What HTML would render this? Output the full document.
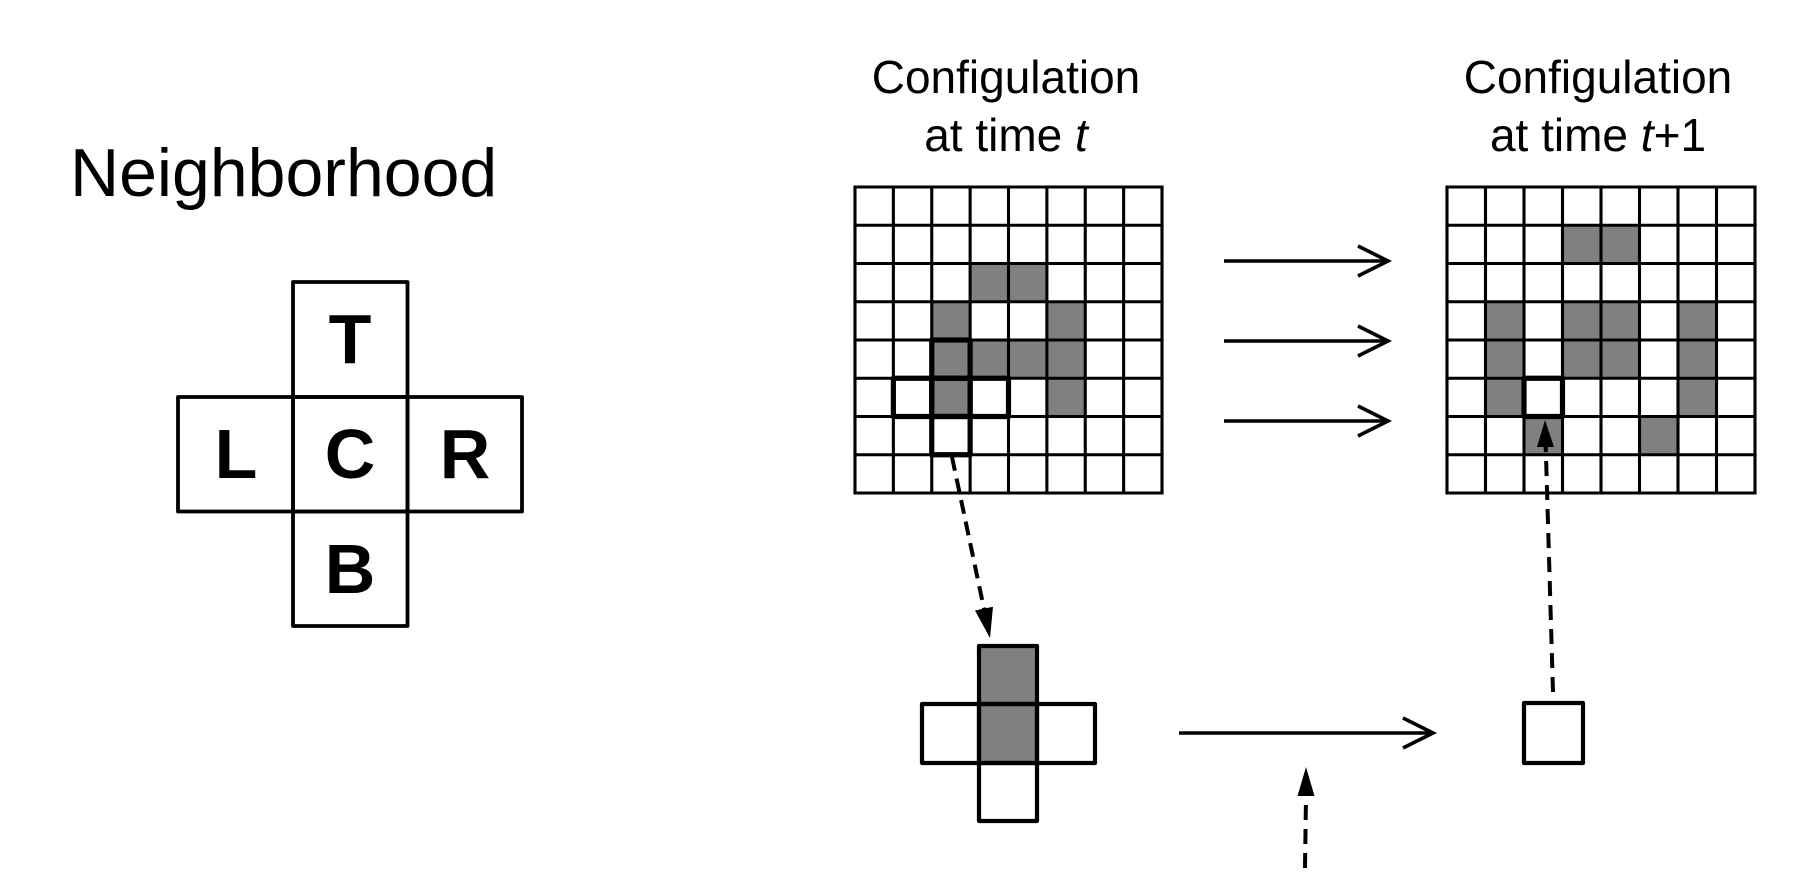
<!DOCTYPE html>
<html>
<head>
<meta charset="utf-8">
<style>
  html,body{margin:0;padding:0;background:#fff;}
  svg{display:block;}
  text{font-family:"Liberation Sans", Arial, sans-serif;fill:#000;}
</style>
</head>
<body>
<svg width="1795" height="889" viewBox="0 0 1795 889" xmlns="http://www.w3.org/2000/svg">
  <rect x="0" y="0" width="1795" height="889" fill="#fff"/>

  <!-- Neighborhood title -->
  <text x="70" y="196" font-size="68">Neighborhood</text>

  <!-- Neighborhood cross -->
  <g fill="none" stroke="#000" stroke-width="3.8" stroke-linejoin="round">
    <rect x="293" y="282" width="114.5" height="115"/>
    <rect x="178" y="397" width="115" height="114.5"/>
    <rect x="293" y="397" width="114.5" height="114.5"/>
    <rect x="407.5" y="397" width="114.5" height="114.5"/>
    <rect x="293" y="511.5" width="114.5" height="114.5"/>
  </g>
  <g font-weight="bold" font-size="70" text-anchor="middle">
    <text x="350" y="363">T</text>
    <text x="236" y="478">L</text>
    <text x="350" y="478">C</text>
    <text x="465" y="478">R</text>
    <text x="350" y="593">B</text>
  </g>

  <!-- Titles -->
  <g font-size="46" text-anchor="middle">
    <text x="1006" y="93">Configulation</text>
    <text x="1006" y="151">at time <tspan font-style="italic">t</tspan></text>
    <text x="1598" y="93">Configulation</text>
    <text x="1598" y="151">at time <tspan font-style="italic">t</tspan>+1</text>
  </g>

  <!-- Grid 1 grey cells -->
  <g fill="#808080">
    <rect x="970.125" y="263.5" width="38.375" height="38.25"/>
    <rect x="1008.5" y="263.5" width="38.375" height="38.25"/>
    <rect x="931.75" y="301.75" width="38.375" height="38.25"/>
    <rect x="1046.875" y="301.75" width="38.375" height="38.25"/>
    <rect x="931.75" y="340" width="38.375" height="38.25"/>
    <rect x="970.125" y="340" width="38.375" height="38.25"/>
    <rect x="1008.5" y="340" width="38.375" height="38.25"/>
    <rect x="1046.875" y="340" width="38.375" height="38.25"/>
    <rect x="931.75" y="378.25" width="38.375" height="38.25"/>
    <rect x="1046.875" y="378.25" width="38.375" height="38.25"/>
  </g>
  <g stroke="#000" stroke-width="3.1" fill="none" stroke-linecap="square">
    <path d="M855,187V493 M893.375,187V493 M931.75,187V493 M970.125,187V493 M1008.5,187V493 M1046.875,187V493 M1085.25,187V493 M1123.625,187V493 M1162,187V493"/>
    <path d="M855,187H1162 M855,225.25H1162 M855,263.5H1162 M855,301.75H1162 M855,340H1162 M855,378.25H1162 M855,416.5H1162 M855,454.75H1162 M855,493H1162"/>
  </g>
  <g stroke="#000" stroke-width="5.2" fill="none" stroke-linejoin="round">
    <rect x="931.75" y="340" width="38.375" height="38.25"/>
    <rect x="893.375" y="378.25" width="38.375" height="38.25"/>
    <rect x="931.75" y="378.25" width="38.375" height="38.25"/>
    <rect x="970.125" y="378.25" width="38.375" height="38.25"/>
    <rect x="931.75" y="416.5" width="38.375" height="38.25"/>
  </g>

  <!-- Grid 2 grey cells -->
  <g fill="#808080">
    <rect x="1562.5" y="225.25" width="38.5" height="38.25"/>
    <rect x="1601" y="225.25" width="38.5" height="38.25"/>
    <rect x="1485.5" y="301.75" width="38.5" height="38.25"/>
    <rect x="1562.5" y="301.75" width="38.5" height="38.25"/>
    <rect x="1601" y="301.75" width="38.5" height="38.25"/>
    <rect x="1678" y="301.75" width="38.5" height="38.25"/>
    <rect x="1485.5" y="340" width="38.5" height="38.25"/>
    <rect x="1562.5" y="340" width="38.5" height="38.25"/>
    <rect x="1601" y="340" width="38.5" height="38.25"/>
    <rect x="1678" y="340" width="38.5" height="38.25"/>
    <rect x="1485.5" y="378.25" width="38.5" height="38.25"/>
    <rect x="1678" y="378.25" width="38.5" height="38.25"/>
    <rect x="1524" y="416.5" width="38.5" height="38.25"/>
    <rect x="1639.5" y="416.5" width="38.5" height="38.25"/>
  </g>
  <g stroke="#000" stroke-width="3.1" fill="none" stroke-linecap="square">
    <path d="M1447,187V493 M1485.5,187V493 M1524,187V493 M1562.5,187V493 M1601,187V493 M1639.5,187V493 M1678,187V493 M1716.5,187V493 M1755,187V493"/>
    <path d="M1447,187H1755 M1447,225.25H1755 M1447,263.5H1755 M1447,301.75H1755 M1447,340H1755 M1447,378.25H1755 M1447,416.5H1755 M1447,454.75H1755 M1447,493H1755"/>
  </g>
  <rect x="1524" y="378.25" width="38.5" height="38.25" fill="#fff" stroke="#000" stroke-width="5.2" stroke-linejoin="round"/>

  <!-- Three solid arrows between grids -->
  <g stroke="#000" stroke-width="3.6" fill="none" stroke-linecap="butt" stroke-linejoin="miter">
    <path d="M1224,261H1386"/>
    <path d="M1358,246L1388,261L1358,276"/>
    <path d="M1224,341H1386"/>
    <path d="M1358,326L1388,341L1358,356"/>
    <path d="M1224,421H1386"/>
    <path d="M1358,406L1388,421L1358,436"/>
  </g>

  <!-- Dashed arrow from grid1 cross down to small cross -->
  <path d="M952,457L984.2,609.6" stroke="#000" stroke-width="4" stroke-dasharray="14,8" fill="none"/>
  <polygon points="990,638 975,610.5 993,606.7" fill="#000"/>

  <!-- Small cross -->
  <rect x="979" y="646" width="58" height="117" fill="#808080"/>
  <g fill="none" stroke="#000" stroke-width="4.2" stroke-linejoin="round">
    <rect x="979" y="646" width="58" height="58"/>
    <rect x="922" y="704" width="57" height="59"/>
    <rect x="979" y="704" width="58" height="59"/>
    <rect x="1037" y="704" width="58" height="59"/>
    <rect x="979" y="763" width="58" height="58"/>
  </g>

  <!-- Bottom solid arrow -->
  <g stroke="#000" stroke-width="3.6" fill="none">
    <path d="M1179,733H1431"/>
    <path d="M1403,718L1433,733L1403,748"/>
  </g>

  <!-- Small square -->
  <rect x="1524" y="703" width="59" height="60" fill="#fff" stroke="#000" stroke-width="4.2" stroke-linejoin="round"/>

  <!-- Dashed arrow from small square up into grid2 -->
  <path d="M1553,692L1545.7,446" stroke="#000" stroke-width="4" stroke-dasharray="15,9" fill="none"/>
  <polygon points="1545,420 1537,447 1554,447" fill="#000"/>

  <!-- Dashed arrow from bottom up -->
  <path d="M1305,868L1306,796" stroke="#000" stroke-width="4" stroke-dasharray="15,9" fill="none"/>
  <polygon points="1306,767 1297.5,796 1314.5,796" fill="#000"/>
</svg>
</body>
</html>
